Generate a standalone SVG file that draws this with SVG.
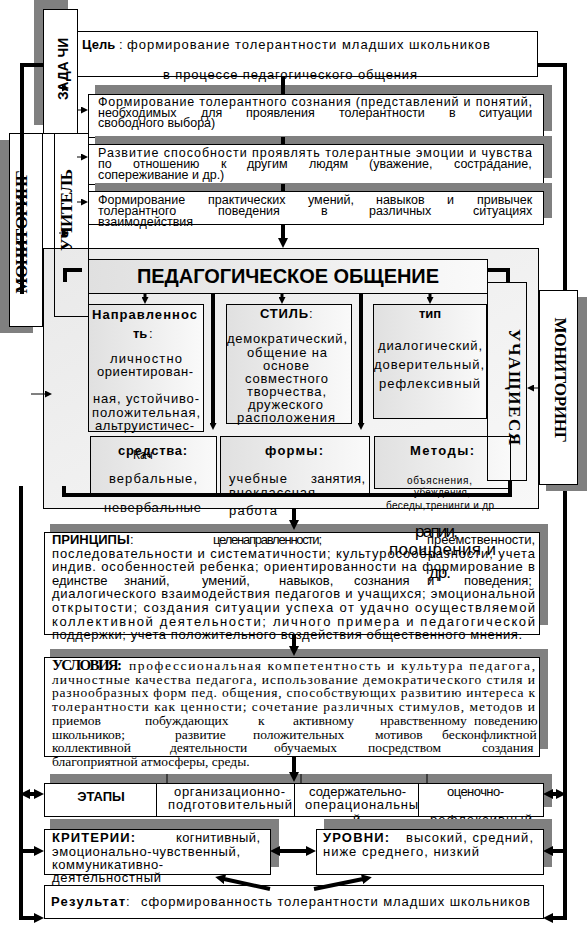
<svg xmlns="http://www.w3.org/2000/svg" width="587" height="928" viewBox="0 0 587 928">
<defs>
<style>
text{font-family:"Liberation Sans",Arial,sans-serif;fill:#000;font-size:13px}
.sf{font-family:"Liberation Serif","Times New Roman",serif}
.b{font-weight:bold}
.f12{font-size:12.5px}
.f10{font-size:10px}
.f17{font-size:17px}
.u{font-size:13.5px}
.box{fill:#fff;stroke:#000;stroke-width:1}
.gbox{fill:url(#gr);stroke:#000;stroke-width:1}
.nbox{fill:none;stroke:#000;stroke-width:1}
.sh{fill:#808080}
.thk{fill:none;stroke:#000;stroke-width:4}
.thm{fill:none;stroke:#000;stroke-width:3}
.thn{fill:none;stroke:#000;stroke-width:1}
</style>
<linearGradient id="gr" x1="0" y1="0" x2="1" y2="0">
<stop offset="0" stop-color="#e0e0e0"/><stop offset="1" stop-color="#fafafa"/>
</linearGradient>
<linearGradient id="gf" x1="0" y1="0" x2="1" y2="1">
<stop offset="0" stop-color="#e9e9e9"/><stop offset="1" stop-color="#f8f8f8"/>
</linearGradient>
<marker id="ah" markerUnits="userSpaceOnUse" markerWidth="10" markerHeight="10" refX="1" refY="5" orient="auto-start-reverse" viewBox="0 0 10 10"><path d="M0,0 L10,5 L0,10 z"/></marker>
<marker id="am" markerUnits="userSpaceOnUse" markerWidth="7" markerHeight="7" refX="1" refY="3.5" orient="auto" viewBox="0 0 7 7"><path d="M0,0 L7,3.5 L0,7 z"/></marker>
</defs>
<rect width="587" height="928" fill="#fff"/>

<g id="zadachi">
<rect class="sh" x="34" y="0" width="34" height="125"/>
<rect class="box" x="43.5" y="9.5" width="34" height="124"/>
<text class="b" style="font-size:15px" transform="translate(67.5,69) rotate(-90)" x="-31" y="0" textLength="62" lengthAdjust="spacingAndGlyphs">ЗАДА ЧИ</text>
</g>

<g id="cel">
<rect class="box" x="77.5" y="31.5" width="460" height="45"/>
<text class="b" x="82" y="49">Цель</text>
<text x="119" y="49">:</text>
<text x="127" y="49" textLength="363" lengthAdjust="spacing">формирование  толерантности младших школьников</text>
<text x="163" y="79" textLength="254" lengthAdjust="spacing">в процессе педагогического общения</text>
</g>

<g id="monitoring-left">
<rect class="sh" x="0" y="140" width="33" height="193"/>
<rect class="box" x="9.5" y="133.5" width="33" height="193"/>
<text class="sf b" style="font-size:17px" transform="translate(26.5,232) rotate(-90)" x="-61.5" y="0" textLength="123" lengthAdjust="spacing">МОНИТОРИНГ</text>
</g>

<g id="task1">
<rect class="sh" x="95" y="85" width="457" height="46"/>
<rect class="box" x="88.5" y="94.5" width="455" height="43"/>
<text class="f12" x="98" y="106" textLength="434" lengthAdjust="spacing">Формирование толерантного сознания (представлений и понятий,</text>
<text class="f12" y="117"><tspan x="98">необходимых</tspan><tspan x="201">для</tspan><tspan x="246">проявления</tspan><tspan x="339">толерантности</tspan><tspan x="449">в</tspan><tspan x="479">ситуации</tspan></text>
<text class="f12" x="98" y="127">свободного выбора)</text>
</g>

<g id="task2">
<rect class="sh" x="95" y="136" width="457" height="42"/>
<rect class="box" x="88.5" y="144.5" width="455" height="40"/>
<text class="f12" x="98" y="157" textLength="434" lengthAdjust="spacing">Развитие способности проявлять толерантные эмоции и чувства</text>
<text class="f12" y="168"><tspan x="98">по</tspan><tspan x="133">отношению</tspan><tspan x="221">к</tspan><tspan x="247">другим</tspan><tspan x="309">людям</tspan><tspan x="369">(уважение,</tspan><tspan x="454">сострадание,</tspan></text>
<text class="f12" x="98" y="179">сопереживание и др.)</text>
</g>

<g id="task3">
<rect class="sh" x="95" y="183" width="457" height="35"/>
<rect class="box" x="88.5" y="191.5" width="455" height="33"/>
<text class="f12" y="204"><tspan x="98">Формирование</tspan><tspan x="208">практических</tspan><tspan x="308">умений,</tspan><tspan x="376">навыков</tspan><tspan x="447">и</tspan><tspan x="477">привычек</tspan></text>
<text class="f12" y="215"><tspan x="98">толерантного</tspan><tspan x="218">поведения</tspan><tspan x="321">в</tspan><tspan x="369">различных</tspan><tspan x="473">ситуациях</tspan></text>
<text class="f12" x="98" y="226">взаимодействия</text>
</g>

<g id="frame">
<rect x="43.5" y="248.5" width="495" height="260" fill="url(#gf)" stroke="#000"/>
</g>

<g id="uchitel">
<rect class="nbox" x="54.5" y="133.5" width="34" height="183"/>
<text class="sf b" style="font-size:17px" transform="translate(71.5,210) rotate(-90)" x="-41" y="0" textLength="82" lengthAdjust="spacing">УЧИТЕЛЬ</text>
</g>

<g id="ped-obshenie">
<rect class="gbox" x="88.5" y="259.5" width="399" height="34"/>
<text class="b" style="font-size:20px" x="137" y="283" textLength="302" lengthAdjust="spacing">ПЕДАГОГИЧЕСКОЕ ОБЩЕНИЕ</text>
</g>

<g id="napravlennost">
<rect class="gbox" x="88.5" y="304.5" width="115" height="127"/>
<text class="b" x="92" y="319" textLength="105" lengthAdjust="spacing">Направленнос</text>
<text class="b" x="133" y="338">ть</text><text x="149" y="338">:</text>
<text x="110" y="363" textLength="72" lengthAdjust="spacing">личностно</text>
<text x="97" y="376" textLength="96" lengthAdjust="spacing">ориентирован-</text>
<text x="93" y="403" textLength="106" lengthAdjust="spacing">ная, устойчиво-</text>
<text x="92" y="417" textLength="108" lengthAdjust="spacing">положительная,</text>
<text x="95" y="430" textLength="99" lengthAdjust="spacing">альтруистичес-</text>
</g>

<g id="stil">
<rect class="gbox" x="226.5" y="304.5" width="125" height="119"/>
<text class="b" x="260" y="318" textLength="48" lengthAdjust="spacing">СТИЛЬ</text><text x="309" y="318">:</text>
<text x="227" y="343" textLength="120" lengthAdjust="spacing">демократический,</text>
<text x="247" y="357" textLength="80" lengthAdjust="spacing">общение на</text>
<text x="263" y="370" textLength="46" lengthAdjust="spacing">основе</text>
<text x="245" y="383" textLength="83" lengthAdjust="spacing">совместного</text>
<text x="247" y="396" textLength="79" lengthAdjust="spacing">творчества,</text>
<text x="248" y="409" textLength="75" lengthAdjust="spacing">дружеского</text>
<text x="237" y="422" textLength="98" lengthAdjust="spacing">расположения</text>
</g>

<g id="tip">
<rect class="gbox" x="373.5" y="304.5" width="113" height="114"/>
<text class="b" x="430" y="318" text-anchor="middle">тип</text>
<text x="378" y="350" textLength="104" lengthAdjust="spacing">диалогический,</text>
<text x="374" y="369" textLength="110" lengthAdjust="spacing">доверительный,</text>
<text x="379" y="388" textLength="101" lengthAdjust="spacing">рефлексивный</text>
</g>

<g id="sredstva">
<rect class="gbox" x="90.5" y="436.5" width="126" height="57"/>
<text x="133" y="459" style="font-size:12px">Кач</text>
<text class="b" x="118" y="455" textLength="69" lengthAdjust="spacing">средства:</text>
<text x="109" y="483" textLength="88" lengthAdjust="spacing">вербальные,</text>
<text x="104" y="512" textLength="97" lengthAdjust="spacing">невербальные</text>
</g>

<g id="formy">
<rect class="gbox" x="220.5" y="436.5" width="149" height="57"/>
<text class="b" x="265" y="455" textLength="58" lengthAdjust="spacing">формы:</text>
<text x="229" y="483" textLength="58" lengthAdjust="spacing">учебные</text>
<text x="311" y="483" textLength="54" lengthAdjust="spacing">занятия,</text>
<text x="229" y="497" textLength="86" lengthAdjust="spacing">внеклассная</text>
<text x="229" y="515" textLength="48" lengthAdjust="spacing">работа</text>
</g>

<g id="metody">
<rect class="gbox" x="374.5" y="436.5" width="136" height="52"/>
<text class="b" x="410" y="455" textLength="64" lengthAdjust="spacing">Методы:</text>
<text class="f10" x="407" y="484" textLength="65" lengthAdjust="spacing">объяснения,</text>
<text class="f10" x="414" y="496" textLength="56" lengthAdjust="spacing">убеждения,</text>
<text class="f10" x="386" y="509" textLength="108" lengthAdjust="spacing">беседы,тренинги и др</text>
</g>

<g id="uchashiesya">
<rect class="nbox" x="487.5" y="282.5" width="39" height="198"/>
<text class="sf b" style="font-size:17px" transform="translate(508.5,387) rotate(90)" x="-58" y="0" textLength="116" lengthAdjust="spacing">УЧАЩИЕСЯ</text>
</g>

<g id="monitoring-right">
<rect class="sh" x="546" y="297" width="41" height="194"/>
<rect class="box" x="539.5" y="290.5" width="38" height="194"/>
<text class="sf b" style="font-size:17px" transform="translate(554.5,380) rotate(90)" x="-62.5" y="0" textLength="125" lengthAdjust="spacing">МОНИТОРИНГ</text>
</g>

<g id="principy">
<rect class="sh" x="50" y="524" width="498" height="101"/>
<rect class="box" x="44.5" y="532.5" width="495" height="102"/>
<text class="b" x="52" y="544">ПРИНЦИПЫ</text><text x="130" y="544">:</text>
<text x="213" y="544" textLength="109" lengthAdjust="spacing">целенаправленности;</text>
<text x="427" y="544" textLength="108" lengthAdjust="spacing">преемственности,</text>
<text x="52" y="557.6" textLength="483" lengthAdjust="spacing">последовательности и систематичности; культуросообразности; учета</text>
<text x="52" y="571.2" textLength="483" lengthAdjust="spacing">индив. особенностей ребенка; ориентированности на формирование в</text>
<text y="584.8"><tspan x="52">единстве</tspan><tspan x="124">знаний,</tspan><tspan x="202">умений,</tspan><tspan x="279">навыков,</tspan><tspan x="354">сознания</tspan><tspan x="427">и</tspan><tspan x="464">поведения;</tspan></text>
<text x="52" y="598.4" textLength="483" lengthAdjust="spacing">диалогического взаимодействия педагогов и учащихся; эмоциональной</text>
<text x="52" y="612" textLength="483" lengthAdjust="spacing">открытости; создания ситуации успеха от удачно осуществляемой</text>
<text x="52" y="625.6" textLength="483" lengthAdjust="spacing">коллективной деятельности;  личного примера и педагогической</text>
<text x="52" y="639.2" textLength="470" lengthAdjust="spacing">поддержки; учета положительного воздействия общественного мнения.</text>
</g>

<g id="metody-overflow">
<text class="f17" x="415" y="537" textLength="43" lengthAdjust="spacing">рапии,</text>
<text class="f17" x="389" y="555" textLength="107" lengthAdjust="spacing">поощрения и</text>
<text class="f17" x="429" y="578" textLength="22" lengthAdjust="spacing">др.</text>
</g>

<g id="usloviya">
<rect class="sh" x="50" y="649" width="498" height="100"/>
<rect class="box" x="44.5" y="657.5" width="495" height="99"/>
<text class="sf b" style="font-size:15px" x="52" y="670" textLength="70" lengthAdjust="spacing">УСЛОВИЯ:</text>
<text class="sf u" x="129" y="670" textLength="406" lengthAdjust="spacing">профессиональная компетентность и культура педагога,</text>
<text class="sf u" x="52" y="683.7" textLength="483" lengthAdjust="spacing">личностные качества педагога, использование демократического стиля и</text>
<text class="sf u" x="52" y="697.4" textLength="483" lengthAdjust="spacing">разнообразных форм пед. общения, способствующих развитию интереса к</text>
<text class="sf u" x="52" y="711.1" textLength="483" lengthAdjust="spacing">толерантности как ценности; сочетание различных стимулов, методов и</text>
<text class="sf u" y="724.8"><tspan x="52">приемов</tspan><tspan x="145">побуждающих</tspan><tspan x="258">к</tspan><tspan x="293">активному</tspan><tspan x="380">нравственному</tspan><tspan x="474">поведению</tspan></text>
<text class="sf u" y="738.5"><tspan x="52">школьников;</tspan><tspan x="175">развитие</tspan><tspan x="253">положительных</tspan><tspan x="375">мотивов</tspan><tspan x="442">бесконфликтной</tspan></text>
<text class="sf u" y="752.2"><tspan x="52">коллективной</tspan><tspan x="170">деятельности</tspan><tspan x="274">обучаемых</tspan><tspan x="368">посредством</tspan><tspan x="482">создания</tspan></text>
<text class="sf u" x="52" y="766">благоприятной атмосферы, среды.</text>
</g>

<g id="etapy">
<rect class="sh" x="50" y="774" width="502" height="33"/>
<path class="thn" d="M167 774V783M301 774V783M427 774V783"/>
<rect class="box" x="44.5" y="783.5" width="499" height="33"/>
<path class="thn" d="M156.5 783.5V816.5M294.5 783.5V816.5M418.5 783.5V816.5"/>
<text class="b" x="101" y="801" text-anchor="middle">ЭТАПЫ</text>
<text x="174" y="796" textLength="111" lengthAdjust="spacing">организационно-</text>
<text x="168" y="808.5" textLength="124" lengthAdjust="spacing">подготовительный</text>
<text x="309" y="796" textLength="97" lengthAdjust="spacing">содержательно-</text>
<text x="305" y="808.5" textLength="113" lengthAdjust="spacing">операциональны</text>
<text x="353" y="824">й</text>
<text x="447" y="796" textLength="57" lengthAdjust="spacing">оценочно-</text>
<text x="430" y="824" textLength="102" lengthAdjust="spacing">рефлексивный</text>
</g>

<g id="kriterii">
<rect class="sh" x="50" y="819" width="229" height="48"/>
<rect class="box" x="44.5" y="829.5" width="226" height="45"/>
<text class="b" x="52" y="842" textLength="83" lengthAdjust="spacing">КРИТЕРИИ:</text>
<text x="176" y="842" textLength="84" lengthAdjust="spacing">когнитивный,</text>
<text x="52" y="855.5" textLength="188" lengthAdjust="spacing">эмоционально-чувственный,</text>
<text x="52" y="869" textLength="111" lengthAdjust="spacing">коммуникативно-</text>
<text x="52" y="882" textLength="109" lengthAdjust="spacing">деятельностный</text>
</g>

<g id="urovni">
<rect class="sh" x="324" y="819" width="228" height="48"/>
<rect class="box" x="316.5" y="829.5" width="227" height="45"/>
<text class="b" x="323" y="842" textLength="66" lengthAdjust="spacing">УРОВНИ:</text>
<text x="406" y="842" textLength="127" lengthAdjust="spacing">высокий, средний,</text>
<text x="323" y="855.5" textLength="156" lengthAdjust="spacing">ниже среднего, низкий</text>
</g>

<g id="rezultat">
<rect class="box" x="44.5" y="885.5" width="499" height="33"/>
<text class="b" x="51" y="906" textLength="74" lengthAdjust="spacing">Результат</text><text x="126" y="906">:</text>
<text x="141" y="906" textLength="389" lengthAdjust="spacing">сформированность толерантности младших школьников</text>
</g>

<g id="connectors">
<path class="thk" d="M43 65H22V294"/>
<path class="thk" d="M537 65H565V290"/>
<path class="thk" d="M283 76V94M283 137V144M283 184V191"/>
<path class="thk" d="M283 224V239" marker-end="url(#ah)"/>
<path class="thm" d="M145 293V298" marker-end="url(#am)"/>
<path class="thm" d="M282 293V298" marker-end="url(#am)"/>
<path class="thm" d="M430 293V298" marker-end="url(#am)"/>
<path class="thk" d="M213 293V424" marker-end="url(#am)"/>
<path class="thk" d="M361 293V424" marker-end="url(#am)"/>
<path class="thk" d="M487 270H508V282"/>
<path class="thk" d="M82 270H65V282"/>
<path class="thk" d="M64 486V495H510V480"/>
<path class="thk" d="M294 508V521" marker-end="url(#ah)"/>
<path class="thk" d="M294 634V647" marker-end="url(#ah)"/>
<path class="thk" d="M294 757V773" marker-end="url(#ah)"/>
<path class="thk" d="M21 486V918H35" marker-end="url(#ah)"/>
<path class="thk" d="M29 794H35" marker-start="url(#ah)" marker-end="url(#ah)"/>
<path class="thk" d="M21 851H35" marker-end="url(#ah)"/>
<path class="thk" d="M565 491V918H552" marker-end="url(#ah)"/>
<path class="thk" d="M552 794H557" marker-start="url(#ah)" marker-end="url(#ah)"/>
<path class="thk" d="M565 851H552" marker-end="url(#ah)"/>
<path class="thk" d="M279 851H307" marker-start="url(#ah)" marker-end="url(#ah)"/>
<path class="thk" d="M270 889L224 879" marker-end="url(#ah)"/>
<path class="thk" d="M314 889L363 879" marker-end="url(#ah)"/>
<path class="thn" d="M31 394H46" marker-end="url(#am)"/>
<path class="thn" d="M539 388H533" marker-end="url(#am)"/>
<path class="thn" d="M77 110H82" marker-end="url(#am)"/>
<path class="thn" d="M77 157H82" marker-end="url(#am)"/>
<path class="thn" d="M77 202H82" marker-end="url(#am)"/>
<path class="thn" d="M59 88H63" marker-end="url(#am)"/>
<path class="thn" d="M59 233H63" marker-end="url(#am)"/>
</g>
</svg>
